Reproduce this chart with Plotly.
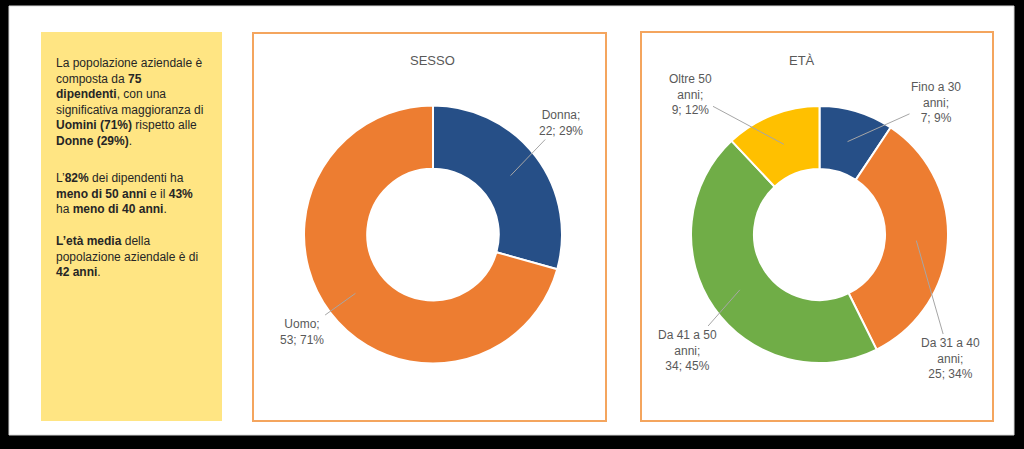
import math
import plotly.graph_objects as go

# ---------------- data ----------------
sesso_labels = ["Donna", "Uomo"]
sesso_values = [22, 53]
sesso_pct = ["29%", "71%"]
sesso_colors = ["#264F87", "#ED7D31"]

eta_labels = ["Fino a 30<br>anni", "Da 31 a 40<br>anni", "Da 41 a 50<br>anni", "Oltre 50<br>anni"]
eta_values = [7, 25, 34, 9]
eta_pct = ["9%", "34%", "45%", "12%"]
eta_colors = ["#264F87", "#ED7D31", "#70AD47", "#FFC000"]

para1 = ("La popolazione aziendale è<br>composta da <b>75</b><br><b>dipendenti</b>, con una<br>"
         "significativa maggioranza di<br><b>Uomini (71%)</b> rispetto alle<br><b>Donne (29%)</b>.")
para2 = "L’<b>82%</b> dei dipendenti ha<br><b>meno di 50 anni</b> e il <b>43%</b><br>ha <b>meno di 40 anni</b>."
para3 = "<b>L’età media</b> della<br>popolazione aziendale è di<br><b>42 anni</b>."

# ---------------- layout helpers ----------------
W, H = 1024, 449
def px(x):
    return x / W
def py(y):
    return 1 - y / H

HOLE = 0.51
pies = [
    dict(cx=433, cy=234.5, r=129),
    dict(cx=819.5, cy=234.5, r=128.5),
]

fig = go.Figure()

def add_pie(labels, values, colors, geo):
    cx, cy, r = geo["cx"], geo["cy"], geo["r"]
    fig.add_trace(go.Pie(
        labels=[l.replace("<br>", " ") for l in labels], values=values, hole=HOLE,
        sort=False, direction="clockwise", rotation=0,
        marker=dict(colors=colors, line=dict(color="white", width=2)),
        textinfo="none", hoverinfo="label+value+percent", showlegend=False,
        domain=dict(x=[px(cx - r), px(cx + r)], y=[py(cy + r), py(cy - r)]),
    ))

add_pie(sesso_labels, sesso_values, sesso_colors, pies[0])
add_pie(eta_labels, eta_values, eta_colors, pies[1])

def anchors(values, geo):
    tot = sum(values)
    cum = 0
    out = []
    rm = geo["r"] * (1 + HOLE) / 2
    for v in values:
        mid = (cum + v / 2) / tot * 2 * math.pi
        cum += v
        out.append((geo["cx"] + rm * math.sin(mid), geo["cy"] - rm * math.cos(mid)))
    return out

shapes = [
    dict(type="rect", xref="paper", yref="paper", x0=px(9), x1=px(1014), y0=py(435), y1=py(6),
         fillcolor="white", line=dict(color="#D9D9D9", width=1), layer="below"),
    dict(type="rect", xref="paper", yref="paper", x0=px(41), x1=px(222), y0=py(421), y1=py(32),
         fillcolor="#FFE583", line=dict(width=0), layer="below"),
    dict(type="rect", xref="paper", yref="paper", x0=px(253), x1=px(606), y0=py(421), y1=py(33),
         fillcolor="white", line=dict(color="#F4A55E", width=2), layer="below"),
    dict(type="rect", xref="paper", yref="paper", x0=px(641), x1=px(993), y0=py(421), y1=py(32),
         fillcolor="white", line=dict(color="#F4A55E", width=2), layer="below"),
]

annotations = []
txt_font = dict(family="Liberation Sans, Arial, sans-serif", size=12, color="#262626")
for text, yc in [(para1, 102), (para2, 193), (para3, 256.5)]:
    annotations.append(dict(xref="paper", yref="paper", x=px(54), y=py(yc), text=text,
                            showarrow=False, xanchor="left", yanchor="middle", align="left",
                            font=txt_font))

title_font = dict(family="Liberation Sans Narrow, Arial Narrow, Liberation Sans, sans-serif",
                  size=13, color="#595959")
annotations.append(dict(xref="paper", yref="paper", x=px(432), y=py(51), text="SESSO",
                        showarrow=False, font=title_font))
annotations.append(dict(xref="paper", yref="paper", x=px(817), y=py(51), text="ETÀ",
                        showarrow=False, font=title_font))

lab_font = dict(family="Liberation Sans, Arial, sans-serif", size=12, color="#595959")

def add_labels(labels, values, pcts, geo, positions):
    for (axp, ayp), lab, v, p, (lx, ly) in zip(anchors(values, geo), labels, values, pcts, positions):
        annotations.append(dict(
            xref="paper", yref="paper", x=px(axp), y=py(ayp),
            text=f"{lab};<br>{v}; {p}", showarrow=True, arrowhead=0, arrowwidth=1,
            arrowcolor="#A6A6A6", ax=lx - axp, ay=ly - ayp, align="center",
            font=lab_font, standoff=0, startstandoff=0,
        ))

add_labels(sesso_labels, sesso_values, sesso_pct, pies[0], [(561, 123), (302, 331.5)])
add_labels(eta_labels, eta_values, eta_pct, pies[1], [(936, 102), (950, 358), (687, 350), (690, 94)])

fig.update_layout(
    width=W, height=H, margin=dict(l=0, r=0, t=0, b=0),
    paper_bgcolor="black", plot_bgcolor="black",
    shapes=shapes, annotations=annotations,
)

fig.write_html(
    "out.html",
    config={"displayModeBar": False},
    post_script="document.body.style.margin='0';document.body.style.overflow='hidden';",
)
